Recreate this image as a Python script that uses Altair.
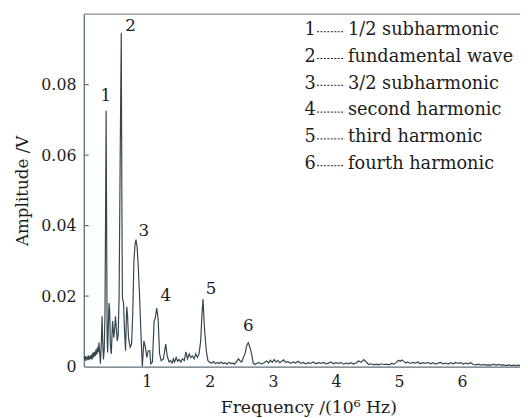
import altair as alt
import pandas as pd

# ---- spectrum ----
freq = [0.000, 0.012, 0.024, 0.036, 0.048, 0.060, 0.072, 0.084, 0.096, 0.108,
        0.120, 0.132, 0.144, 0.156, 0.168, 0.180, 0.192, 0.204, 0.216, 0.228,
        0.240, 0.252, 0.264, 0.276, 0.290, 0.300, 0.312, 0.324, 0.336, 0.346,
        0.354, 0.362, 0.370, 0.378, 0.390, 0.400, 0.410, 0.422, 0.436, 0.456,
        0.477, 0.490, 0.502, 0.515, 0.530, 0.545, 0.560, 0.575, 0.594, 0.603,
        0.612, 0.630, 0.646, 0.662, 0.680, 0.692, 0.710, 0.735, 0.758, 0.776,
        0.795, 0.812, 0.828, 0.845, 0.862, 0.885, 0.905, 0.928, 0.953, 0.976,
        1.000, 1.021, 1.047, 1.062, 1.088, 1.115, 1.135, 1.156, 1.178, 1.202,
        1.228, 1.262, 1.300, 1.323, 1.352, 1.375, 1.400, 1.420, 1.440, 1.465,
        1.490, 1.510, 1.540, 1.565, 1.594, 1.620, 1.646, 1.672, 1.698, 1.724,
        1.750, 1.776, 1.802, 1.828, 1.854, 1.875, 1.891, 1.905, 1.917, 1.943,
        1.969, 2.000, 2.030, 2.060, 2.090, 2.120, 2.150, 2.180, 2.210, 2.240,
        2.270, 2.300, 2.330, 2.360, 2.390, 2.420, 2.453, 2.480, 2.505, 2.530,
        2.557, 2.585, 2.609, 2.635, 2.661, 2.687, 2.715, 2.740, 2.780, 2.820,
        2.860, 2.900, 2.930, 2.960, 2.990, 3.020, 3.050, 3.080, 3.110, 3.140,
        3.170, 3.200, 3.240, 3.280, 3.320, 3.360, 3.400, 3.440, 3.480, 3.520,
        3.560, 3.600, 3.640, 3.680, 3.720, 3.760, 3.800, 3.840, 3.880, 3.920,
        3.960, 4.000, 4.040, 4.080, 4.120, 4.160, 4.200, 4.240, 4.280, 4.320,
        4.360, 4.400, 4.440, 4.480, 4.520, 4.560, 4.600, 4.640, 4.680, 4.720,
        4.760, 4.800, 4.840, 4.880, 4.920, 4.960, 4.990, 5.020, 5.050, 5.080,
        5.110, 5.140, 5.180, 5.220, 5.260, 5.300, 5.340, 5.380, 5.420, 5.460,
        5.500, 5.540, 5.580, 5.620, 5.660, 5.700, 5.740, 5.780, 5.820, 5.860,
        5.900, 5.940, 5.980, 6.020, 6.060, 6.100, 6.140, 6.180, 6.220, 6.260,
        6.300, 6.340, 6.380, 6.420, 6.460, 6.500, 6.540, 6.580, 6.620, 6.660,
        6.700, 6.740, 6.780, 6.820, 6.860, 6.900, 6.920]

amp = [0.0030, 0.0020, 0.0030, 0.0016, 0.0028, 0.0020, 0.0032, 0.0018, 0.0030, 0.0022,
       0.0034, 0.0020, 0.0040, 0.0026, 0.0042, 0.0030, 0.0048, 0.0034, 0.0055, 0.0040,
       0.0068, 0.0040, 0.0008, 0.0060, 0.0143, 0.0070, 0.0020, 0.0050, 0.0150, 0.0450,
       0.0726, 0.0400, 0.0080, 0.0040, 0.0120, 0.0180, 0.0160, 0.0060, 0.0036, 0.0129,
       0.0082, 0.0110, 0.0143, 0.0110, 0.0073, 0.0090, 0.0200, 0.0550, 0.0947, 0.0500,
       0.0195, 0.0180, 0.0100, 0.0045, 0.0170, 0.0150, 0.0080, 0.0055, 0.0064, 0.0150,
       0.0300, 0.0345, 0.0360, 0.0340, 0.0290, 0.0200, 0.0100, 0.0000, 0.0073, 0.0055,
       0.0026, 0.0045, 0.0045, 0.0008, 0.0013, 0.0129, 0.0138, 0.0166, 0.0138, 0.0036,
       0.0017, 0.0022, 0.0064, 0.0030, 0.0013, 0.0017, 0.0010, 0.0022, 0.0013, 0.0026,
       0.0015, 0.0020, 0.0013, 0.0022, 0.0017, 0.0042, 0.0022, 0.0036, 0.0026, 0.0030,
       0.0022, 0.0036, 0.0026, 0.0036, 0.0073, 0.0150, 0.0192, 0.0140, 0.0101, 0.0045,
       0.0017, 0.0012, 0.0010, 0.0014, 0.0008, 0.0012, 0.0009, 0.0013, 0.0008, 0.0011,
       0.0007, 0.0012, 0.0009, 0.0010, 0.0007, 0.0013, 0.0022, 0.0016, 0.0013, 0.0025,
       0.0036, 0.0060, 0.0068, 0.0055, 0.0036, 0.0010, 0.0006, 0.0009, 0.0012, 0.0007,
       0.0011, 0.0016, 0.0010, 0.0018, 0.0012, 0.0020, 0.0013, 0.0017, 0.0011, 0.0015,
       0.0019, 0.0012, 0.0014, 0.0009, 0.0013, 0.0010, 0.0015, 0.0009, 0.0012, 0.0008,
       0.0011, 0.0009, 0.0013, 0.0008, 0.0011, 0.0009, 0.0012, 0.0008, 0.0010, 0.0013,
       0.0008, 0.0011, 0.0009, 0.0012, 0.0007, 0.0010, 0.0008, 0.0011, 0.0007, 0.0010,
       0.0016, 0.0012, 0.0020, 0.0013, 0.0006, 0.0008, 0.0005, 0.0007, 0.0005, 0.0008,
       0.0006, 0.0007, 0.0005, 0.0009, 0.0007, 0.0012, 0.0018, 0.0015, 0.0019, 0.0014,
       0.0010, 0.0013, 0.0009, 0.0012, 0.0010, 0.0013, 0.0008, 0.0011, 0.0009, 0.0012,
       0.0008, 0.0011, 0.0007, 0.0010, 0.0012, 0.0008, 0.0010, 0.0007, 0.0011, 0.0008,
       0.0012, 0.0009, 0.0011, 0.0007, 0.0010, 0.0008, 0.0011, 0.0006, 0.0005, 0.0007,
       0.0004, 0.0006, 0.0004, 0.0005, 0.0004, 0.0007, 0.0004, 0.0006, 0.0004, 0.0005,
       0.0003, 0.0005, 0.0003, 0.0004, 0.0003, 0.0004, 0.0003]

# ---- annotations ----
peak_ids = ["1", "2", "3", "4", "5", "6"]
peak_label_x = [0.35, 0.74, 0.95, 1.30, 2.02, 2.61]
peak_label_y = [0.0758, 0.0957, 0.0376, 0.0192, 0.0211, 0.0108]
legend_labels = ["1/2 subharmonic", "fundamental wave", "3/2 subharmonic",
                 "second harmonic", "third harmonic", "fourth harmonic"]

x_ticks = [1, 2, 3, 4, 5, 6]
y_ticks = [0, 0.02, 0.04, 0.06, 0.08]

W, H = 443, 358
XMAX, YMAX = 6.92, 0.1
FONT = "DejaVu Serif"
INK = "#1c1c1c"
LINE = "#34474f"
AXIS = "#5b6f7a"

xs = alt.Scale(domain=[0, XMAX], nice=False, zero=False)
ys = alt.Scale(domain=[0, YMAX], nice=False)

spec = pd.DataFrame({"f": freq, "a": amp})

line = alt.Chart(spec).mark_line(color=LINE, strokeWidth=1.2, clip=True).encode(
    x=alt.X("f:Q", scale=xs, axis=alt.Axis(
        values=x_ticks, title="Frequency /(10⁶ Hz)", ticks=False, grid=False,
        labelPadding=7, format="d", titleX=228, titleY=42,
        titleBaseline="middle", titleAlign="center", titleFontSize=17.5)),
    y=alt.Y("a:Q", scale=ys, axis=alt.Axis(
        values=y_ticks, title="Amplitude /V", ticks=False, grid=False,
        labelPadding=8,
        labelExpr="datum.value == 0 ? '0' : format(datum.value, '.2f')",
        titleX=-62, titleY=H / 2, titleAngle=-90, titleBaseline="middle",
        titleAlign="center")),
)

# inner y tick marks
tick_df = pd.DataFrame({"v": y_ticks[1:]})
ticks = alt.Chart(tick_df).mark_rule(color=AXIS, strokeWidth=1.2).encode(
    y=alt.Y("v:Q", scale=ys), x=alt.value(0), x2=alt.value(5))

# top border
top = alt.Chart(pd.DataFrame({"z": [0]})).mark_rule(color="#7d8d96", strokeWidth=1.2).encode(
    y=alt.value(0), x=alt.value(0), x2=alt.value(W))

# peak labels
pk = pd.DataFrame({"id": peak_ids, "x": peak_label_x, "y": peak_label_y})
peak_text = alt.Chart(pk).mark_text(font=FONT, fontSize=17, color=INK, dy=-3,
                                    baseline="middle", align="center").encode(
    x=alt.X("x:Q", scale=xs), y=alt.Y("y:Q", scale=ys), text="id:N")

# legend (in data units)
leg_top, leg_step = 0.0946, 0.0076
leg = pd.DataFrame({"id": peak_ids, "label": legend_labels,
                    "row": list(range(len(peak_ids)))})
leg["y"] = leg_top - leg["row"] * leg_step
leg["yd"] = leg["y"] + 0.0004
leg["xn"] = 3.50
leg["xd1"] = 3.70
leg["xd2"] = 4.14
leg["xl"] = 4.19

leg_num = alt.Chart(leg).mark_text(font=FONT, fontSize=18, color=INK, dy=-3,
                                   baseline="middle", align="left").encode(
    x=alt.X("xn:Q", scale=xs), y=alt.Y("y:Q", scale=ys), text="id:N")
leg_dash = alt.Chart(leg).mark_rule(color=INK, strokeWidth=1, strokeDash=[2, 1.5]).encode(
    x=alt.X("xd1:Q", scale=xs), x2="xd2:Q", y=alt.Y("yd:Q", scale=ys))
leg_lab = alt.Chart(leg).mark_text(font=FONT, fontSize=18, color=INK, dy=-3,
                                   baseline="middle", align="left").encode(
    x=alt.X("xl:Q", scale=xs), y=alt.Y("y:Q", scale=ys), text="label:N")

chart = alt.layer(line, ticks, top, peak_text, leg_num, leg_dash, leg_lab).properties(
    width=W, height=H,
    autosize=alt.AutoSizeParams(type="none"),
    padding={"left": 77, "top": 3, "right": 0, "bottom": 49},
    background="white",
).configure_view(stroke=None).configure_axis(
    labelFont=FONT, titleFont=FONT, labelFontSize=16, titleFontSize=17,
    labelColor=INK, titleColor=INK, titleFontWeight="normal",
    domainColor=AXIS, domainWidth=1.3,
)

chart.save("out.html", embed_options={"renderer": "svg", "actions": False})
